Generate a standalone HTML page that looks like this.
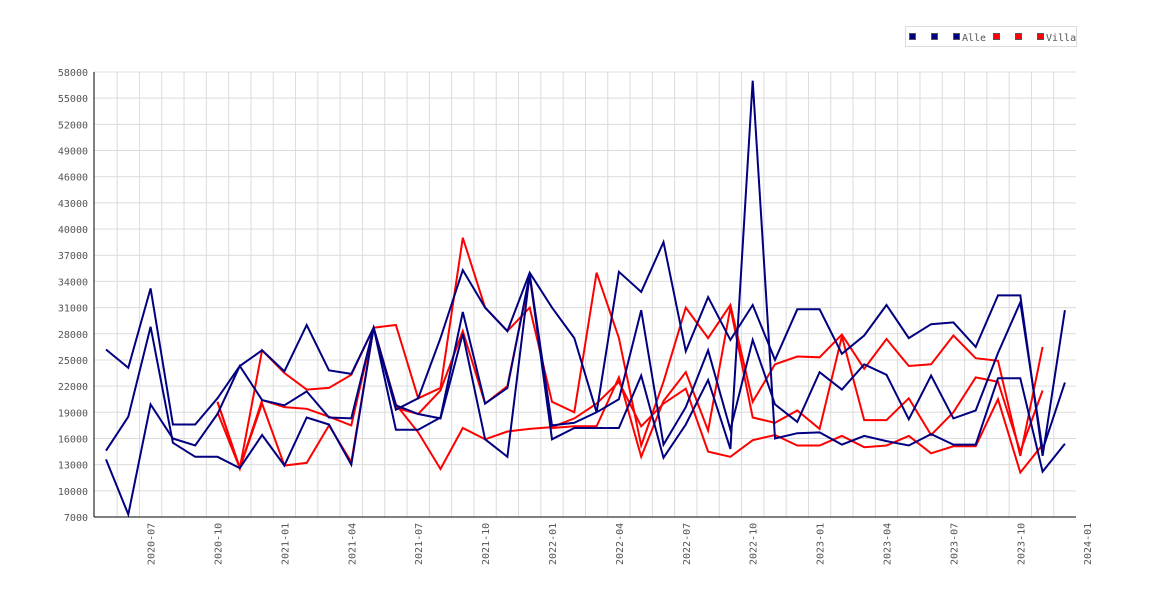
<!DOCTYPE html>
<html><head><meta charset="utf-8"><style>
body{margin:0;background:#fff;}
svg text{font-family:"DejaVu Sans Mono","Liberation Mono",monospace;font-size:10px;fill:#555;}
</style></head><body>
<svg id="chart" width="1170" height="600" xmlns="http://www.w3.org/2000/svg">
<g id="grid"></g>
<g id="series"></g>
<g id="axes"></g>
<g id="legend"></g>
</svg>
<script>
const months = [];
(function(){let y=2020,m=5;for(let i=0;i<46;i++){months.push(y+'-'+String(m).padStart(2,'0'));m++;if(m>12){m=1;y++;}}})();
const yTicks = [7000,10000,13000,16000,19000,22000,25000,28000,31000,34000,37000,40000,43000,46000,49000,52000,55000,58000];
const alleA = [26200,24100,33200,17600,17600,20600,24300,26100,23700,29000,23800,23400,28700,19300,20600,27500,35300,31000,28300,35000,31000,27500,19000,35100,32800,38500,26000,32200,27300,31300,25000,30800,30800,25700,27800,31300,27500,29100,29300,26500,32400,32400,14000,30700];
const alleB = [14600,18500,28800,15500,13900,13900,12600,16400,12900,18400,17600,13000,28700,17000,17000,18400,30500,20000,21800,34800,15900,17200,17200,17200,23200,13800,17600,22700,14800,57000,16000,16600,16700,15300,16300,15700,15200,16500,15300,15300,22900,22900,12200,15400];
const alleC = [13600,7300,19900,16000,15200,18800,24300,20400,19800,21400,18400,18300,28700,19800,18800,18300,28000,15900,13900,34800,17500,17800,19000,20500,30700,15300,19600,26100,17000,27300,19900,17900,23600,21600,24500,23300,18200,23200,18300,19200,25800,31600,14700,22400];
const villaStart = 5;
const villaA = [20200,12600,26100,23500,21600,21800,23300,28700,29000,20600,21800,39000,31000,28300,31000,20200,19000,35000,27500,15200,22500,31000,27500,31300,20200,24500,25400,25300,27900,24000,27400,24300,24500,27800,25200,24900,14000,26500];
const villaB = [19000,12600,20400,19600,19400,18500,17500,28700,19500,18800,21500,28300,20000,22000,34500,17200,17400,17400,23000,13900,20300,23600,16900,31000,18400,17800,19200,17100,27700,18100,18100,20600,16400,19000,23000,22500,14500,21500];
const villaC = [20200,12600,20000,12900,13200,17500,13300,28700,19900,16700,12500,17200,15900,16800,17100,17300,18300,20000,22500,17400,20000,21700,14500,13900,15800,16400,15200,15200,16300,15000,15200,16300,14300,15100,15100,20500,12100,15300];

const X0=106, DX=22.3, Y0=517, Y1=72, VMIN=7000, VMAX=58000;
const xs = i => X0 + i*DX;
const ys = v => Y0 - (v-VMIN)/(VMAX-VMIN)*(Y0-Y1);
const NS='http://www.w3.org/2000/svg';
function mk(tag, attrs, parent){const e=document.createElementNS(NS,tag);for(const k in attrs)e.setAttribute(k,attrs[k]);parent.appendChild(e);return e;}
const grid=document.getElementById('grid'), ser=document.getElementById('series'), axes=document.getElementById('axes'), leg=document.getElementById('legend');
// horizontal grid + y labels
yTicks.forEach(v=>{
  const l=mk('line',{x1:94,x2:1076,y1:ys(v),y2:ys(v),stroke:'#dcdcdc','stroke-width':1},grid);
  
  
  const t=mk('text',{x:88,y:ys(v)+4,'text-anchor':'end'},axes);
  t.textContent=v;
  
  
});
// vertical grid
for(let i=0;i<44;i++){
  const gx=X0+DX/2+i*DX; if(gx>1076)break;
  const l=mk('line',{x1:gx,x2:gx,y1:Y1,y2:Y0,stroke:'#dcdcdc','stroke-width':1},grid);
  
  
}
// x labels
months.forEach((m,i)=>{
  if(i%3!==2)return;
  const x=xs(i)+4;
  const t=mk('text',{x:x,y:565,transform:'rotate(-90 '+x+' 565)'},axes);
  t.textContent=m;
  
  
});
// axes lines
const ax1=mk('line',{x1:94,x2:94,y1:72,y2:517,stroke:'#000','stroke-width':1},axes);


const ax2=mk('line',{x1:94,x2:1076,y1:517,y2:517,stroke:'#000','stroke-width':1},axes);


function line(data,start,color,name){
  const pts=data.map((v,i)=>xs(i+start).toFixed(1)+','+ys(v).toFixed(1)).join(' ');
  const p=mk('polyline',{points:pts,fill:'none',stroke:color,'stroke-width':2,'stroke-linejoin':'miter'},ser);
  
  
}
line(villaA,villaStart,'#ff0000','villa-series-1');
line(villaB,villaStart,'#ff0000','villa-series-2');
line(villaC,villaStart,'#ff0000','villa-series-3');
line(alleA,0,'#000080','alle-series-1');
line(alleB,0,'#000080','alle-series-2');
line(alleC,0,'#000080','alle-series-3');
// legend
const box=mk('rect',{x:905.5,y:26.5,width:171,height:20,fill:'#fff',stroke:'#dcdcdc'},leg);


const entries=[[909,'#000080',''],[931,'#000080',''],[953,'#000080','Alle'],[993,'#ff0000',''],[1015,'#ff0000',''],[1037,'#ff0000','Villa']];
entries.forEach(e=>{
  const r=mk('rect',{x:e[0]+0.5,y:33.5,width:6,height:6,fill:e[1],stroke:'#555'},leg);
  
  
  if(e[2]){
    const t=mk('text',{x:e[0]+9,y:41},leg);
    t.textContent=e[2];
    
    
  }
});
</script>
</body></html>
